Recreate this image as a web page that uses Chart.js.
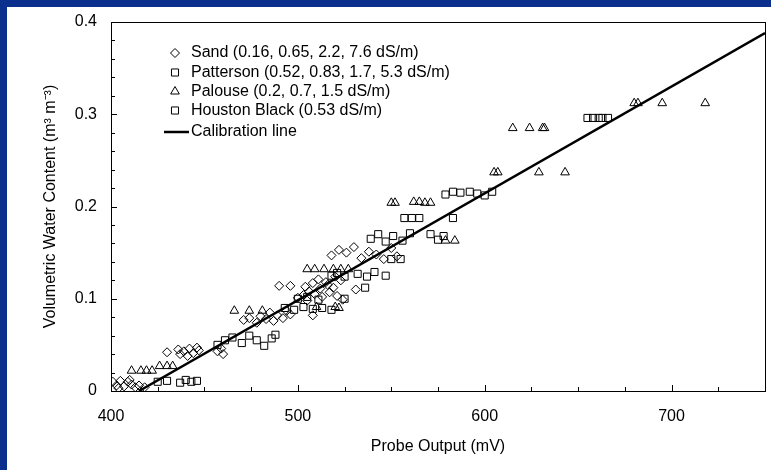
<!DOCTYPE html>
<html>
<head>
<meta charset="utf-8">
<script src="https://cdn.jsdelivr.net/npm/chart.js@4.4.0/dist/chart.umd.min.js"></script>
<style>
  html, body { margin: 0; padding: 0; }
  body { width: 771px; height: 470px; background: #0a2f8c; overflow: hidden; position: relative; }
  #wrap { position: absolute; left: 7px; top: 7px; width: 764px; height: 463px; background: #fff; }
</style>
</head>
<body>
<div id="wrap"><canvas id="probeChart" width="764" height="463"></canvas></div>
<script>
// probe output (mV) vs volumetric water content
const sandMv  = [401, 403, 405, 407, 409, 411, 404, 410, 413, 415, 418,
                 430, 436, 439, 442, 444, 447, 441, 437, 446, 457, 460, 459,
                 471, 474, 478, 480, 483, 485, 487, 489, 492, 494, 496,
                 490, 496, 504, 508, 512, 516, 519, 506,
                 500, 503, 505, 509, 513, 517, 521, 524, 508, 531,
                 511, 515, 520, 523,
                 518, 522, 526, 530, 534, 538, 542, 546, 550, 553];
const sandVwc = [0.010, 0.006, 0.011, 0.005, 0.010, 0.007, 0.003, 0.012, 0.004, 0.006, 0.004,
                 0.042, 0.045, 0.043, 0.046, 0.041, 0.044, 0.038, 0.040, 0.047, 0.043, 0.040, 0.046,
                 0.077, 0.079, 0.074, 0.081, 0.078, 0.085, 0.076, 0.082, 0.079, 0.087, 0.083,
                 0.114, 0.114, 0.113, 0.117, 0.111, 0.115, 0.112, 0.108,
                 0.101, 0.104, 0.098, 0.105, 0.102, 0.107, 0.103, 0.099, 0.082, 0.110,
                 0.121, 0.118, 0.124, 0.120,
                 0.147, 0.153, 0.150, 0.156, 0.144, 0.151, 0.148, 0.143, 0.155, 0.146];

const pattersonMv  = [425, 430, 437, 440, 443, 446,
                      457, 461, 465, 470, 474, 478, 482, 486, 488,
                      493, 498, 503, 508, 513, 518,
                      500, 505, 511, 525,
                      518, 521, 525, 532, 537, 541, 547, 536,
                      550, 555,
                      539, 543, 547, 551, 556, 560, 571, 575, 578];
const pattersonVwc = [0.010, 0.011, 0.009, 0.012, 0.010, 0.011,
                      0.050, 0.055, 0.058, 0.052, 0.060, 0.055, 0.049, 0.057, 0.061,
                      0.090, 0.088, 0.091, 0.089, 0.090, 0.088,
                      0.100, 0.102, 0.099, 0.100,
                      0.125, 0.128, 0.124, 0.127, 0.124, 0.129, 0.125, 0.112,
                      0.143, 0.143,
                      0.165, 0.170, 0.162, 0.168, 0.163, 0.171, 0.170, 0.164, 0.168];

const palouseMv  = [411, 416, 419, 422, 426, 430, 433,
                    466, 474, 481,
                    505, 509, 514, 519, 523, 527,
                    510, 520, 522,
                    550, 552, 562, 565, 568, 571,
                    579, 584,
                    605, 607, 629, 643,
                    615, 624, 631, 632,
                    680, 682, 695, 718];
const palouseVwc = [0.022, 0.022, 0.022, 0.022, 0.027, 0.027, 0.027,
                    0.087, 0.087, 0.087,
                    0.132, 0.132, 0.132, 0.132, 0.132, 0.132,
                    0.091, 0.091, 0.090,
                    0.204, 0.204, 0.205, 0.205, 0.204, 0.204,
                    0.163, 0.163,
                    0.237, 0.237, 0.237, 0.237,
                    0.285, 0.285, 0.285, 0.285,
                    0.312, 0.312, 0.312, 0.312];

const houstonMv  = [655, 658, 661, 663, 666,
                    579, 583, 587, 592, 596, 600, 604,
                    557, 561, 565, 583];
const houstonVwc = [0.296, 0.296, 0.296, 0.296, 0.296,
                    0.213, 0.216, 0.215, 0.216, 0.214, 0.212, 0.216,
                    0.1875, 0.1875, 0.1875, 0.1875];

const calibMv  = [415, 750];
const calibVwc = [0, 0.388];

const seriesLabels = [
  'Sand (0.16, 0.65, 2.2, 7.6 dS/m)',
  'Patterson (0.52, 0.83, 1.7, 5.3 dS/m)',
  'Palouse (0.2, 0.7, 1.5 dS/m)',
  'Houston Black (0.53 dS/m)',
  'Calibration line'
];

const xTicks = [400, 500, 600, 700];
const yTicks = [0, 0.1, 0.2, 0.3, 0.4];

const FONT = '"Liberation Sans", Arial, Helvetica, sans-serif';

function toPoints(xs, ys) {
  return xs.map((v, i) => ({ x: v, y: ys[i] }));
}

function scatterSet(label, xs, ys, style, radius) {
  return {
    type: 'scatter',
    label: label,
    data: toPoints(xs, ys),
    pointStyle: style,
    pointRadius: radius,
    pointBorderWidth: 1,
    borderColor: '#000',
    backgroundColor: 'rgba(0,0,0,0)',
    order: 1
  };
}

// frame box plus inward major/minor ticks
const frameTicks = {
  id: 'frameTicks',
  afterDatasetsDraw(chart) {
    const { ctx, chartArea: a, scales: { x, y } } = chart;
    ctx.save();
    ctx.strokeStyle = '#000';
    ctx.lineWidth = 1;
    ctx.strokeRect(Math.round(a.left) + 0.5, Math.round(a.top) + 0.5,
                   Math.round(a.right - a.left), Math.round(a.bottom - a.top));
    ctx.beginPath();
    for (let v = 400; v <= 750; v += 25) {
      const px = Math.round(x.getPixelForValue(v)) + 0.5;
      const len = v % 100 === 0 ? 6 : 4;
      ctx.moveTo(px, a.bottom);
      ctx.lineTo(px, a.bottom - len);
    }
    for (let i = 0; i <= 20; i++) {
      const py = Math.round(y.getPixelForValue(i * 0.02)) + 0.5;
      const len = i % 5 === 0 ? 6 : 4;
      ctx.moveTo(a.left, py);
      ctx.lineTo(a.left + len, py);
    }
    ctx.stroke();
    ctx.restore();
  }
};

// legend drawn inside the plot, top left
const legendRows = [46, 65.5, 84.5, 103.5, 125];
const insetLegend = {
  id: 'insetLegend',
  afterDraw(chart) {
    const ctx = chart.ctx;
    ctx.save();
    ctx.font = '16px ' + FONT;
    ctx.textBaseline = 'middle';
    chart.data.datasets.forEach((ds, i) => {
      const yy = legendRows[i];
      ctx.strokeStyle = '#000';
      if (ds.type === 'line') {
        ctx.lineWidth = ds.borderWidth;
        ctx.beginPath();
        ctx.moveTo(157, yy);
        ctx.lineTo(182, yy);
        ctx.stroke();
      } else {
        ctx.lineWidth = 1;
        ctx.fillStyle = 'rgba(0,0,0,0)';
        Chart.helpers.drawPoint(ctx, { pointStyle: ds.pointStyle, radius: ds.pointRadius, borderWidth: 1 }, 168, yy);
      }
      ctx.fillStyle = '#000';
      ctx.fillText(ds.label, 184, yy);
    });
    ctx.restore();
  }
};

new Chart(document.getElementById('probeChart'), {
  data: {
    datasets: [
      scatterSet(seriesLabels[0], sandMv, sandVwc, 'rectRot', 4.5),
      scatterSet(seriesLabels[1], pattersonMv, pattersonVwc, 'rect', 5),
      scatterSet(seriesLabels[2], palouseMv, palouseVwc, 'triangle', 5),
      scatterSet(seriesLabels[3], houstonMv, houstonVwc, 'rect', 5),
      {
        type: 'line',
        label: seriesLabels[4],
        data: toPoints(calibMv, calibVwc),
        borderColor: '#000',
        borderWidth: 2.5,
        pointRadius: 0,
        fill: false,
        order: 0
      }
    ]
  },
  options: {
    responsive: false,
    animation: false,
    layout: { padding: { top: 15, right: 3, left: 0, bottom: 0 } },
    plugins: {
      legend: { display: false },
      tooltip: { enabled: false }
    },
    scales: {
      x: {
        type: 'linear',
        min: 400,
        max: 750,
        afterBuildTicks: s => { s.ticks = xTicks.map(v => ({ value: v })); },
        afterFit: s => { s.height = 79; s.paddingLeft = 0; s.paddingRight = 0; },
        grid: { display: false, drawTicks: false },
        border: { display: false },
        ticks: { color: '#000', padding: 16, maxRotation: 0, font: { family: FONT, size: 16 } },
        title: {
          display: true,
          text: 'Probe Output (mV)',
          color: '#000',
          font: { family: FONT, size: 16 },
          padding: { top: 0, bottom: 14 }
        }
      },
      y: {
        type: 'linear',
        min: 0,
        max: 0.4,
        afterBuildTicks: s => { s.ticks = yTicks.map(v => ({ value: v })); },
        afterFit: s => { s.width = 104; s.paddingTop = 0; s.paddingBottom = 0; },
        grid: { display: false, drawTicks: false },
        border: { display: false },
        ticks: {
          color: '#000',
          padding: 14,
          font: { family: FONT, size: 16 },
          callback: v => v === 0 ? '0' : v.toFixed(1)
        },
        title: {
          display: true,
          text: 'Volumetric Water Content (m\u00B3 m\u207B\u00B3)',
          color: '#000',
          font: { family: FONT, size: 16 },
          padding: { top: 34, bottom: 0 }
        }
      }
    }
  },
  plugins: [frameTicks, insetLegend]
});
</script>
</body>
</html>
